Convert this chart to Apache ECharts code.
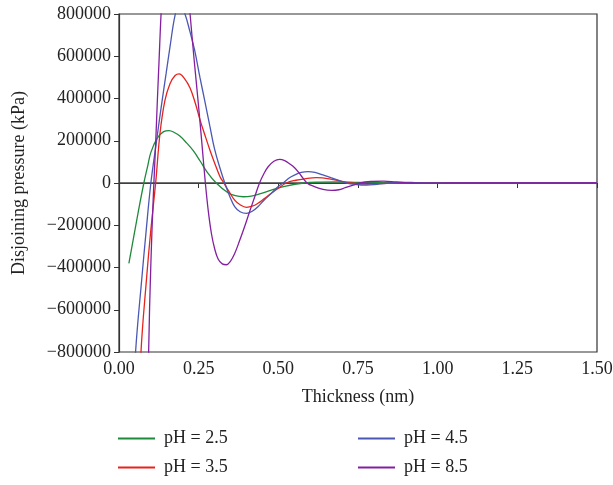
<!DOCTYPE html>
<html>
<head>
<meta charset="utf-8">
<script src="https://cdn.jsdelivr.net/npm/echarts@6/dist/echarts.min.js"></script>
<style>html,body{margin:0;padding:0;background:#fff}#c{width:613px;height:485px}</style>
</head>
<body>
<div id="c"></div>
<script>
var seriesNames = ['pH = 2.5', 'pH = 3.5', 'pH = 4.5', 'pH = 8.5'];
var xTickLabels = ['0.00', '0.25', '0.50', '0.75', '1.00', '1.25', '1.50'];

var ph25 = [[0.031,-381000],[0.045,-265000],[0.06,-140000],[0.078,0],[0.09,80000],[0.10,145000],[0.12,212000],[0.14,243000],[0.157,248000],[0.175,238000],[0.191,222000],[0.212,190000],[0.233,153000],[0.255,103000],[0.275,55000],[0.305,0],[0.342,-46000],[0.365,-60000],[0.39,-65000],[0.415,-62000],[0.447,-49000],[0.48,-33000],[0.52,-16000],[0.58,0],[0.63,4000],[0.69,5000],[0.75,3000],[0.85,1000],[0.95,0],[1.5,0]];
var ph35 = [[0.05,-1500000],[0.069,-800000],[0.086,-460000],[0.10,-220000],[0.115,0],[0.129,240000],[0.144,390000],[0.16,470000],[0.176,509000],[0.189,517000],[0.205,495000],[0.223,450000],[0.24,375000],[0.254,300000],[0.27,225000],[0.286,153000],[0.30,95000],[0.317,30000],[0.329,0],[0.345,-40000],[0.363,-81000],[0.38,-103000],[0.40,-115000],[0.418,-110000],[0.436,-96000],[0.455,-75000],[0.478,-49000],[0.50,-25000],[0.525,0],[0.555,13000],[0.583,20000],[0.62,25000],[0.66,20000],[0.70,8000],[0.725,0],[0.78,-5000],[0.84,-2000],[0.9,1000],[1.0,0],[1.5,0]];
var ph45 = [[0.035,-1300000],[0.052,-800000],[0.072,-445000],[0.085,-230000],[0.10,0],[0.117,190000],[0.134,376000],[0.148,520000],[0.16,644000],[0.176,795000],[0.19,855000],[0.207,800000],[0.222,720000],[0.237,631000],[0.254,500000],[0.269,390000],[0.285,270000],[0.30,160000],[0.317,70000],[0.332,0],[0.348,-65000],[0.363,-112000],[0.38,-136000],[0.40,-144000],[0.418,-134000],[0.436,-112000],[0.455,-82000],[0.478,-49000],[0.497,-20000],[0.515,0],[0.535,25000],[0.551,38000],[0.572,50000],[0.593,54000],[0.615,50000],[0.64,38000],[0.665,25000],[0.687,14000],[0.714,0],[0.745,-7000],[0.777,-9500],[0.81,-6000],[0.85,0],[0.88,3000],[0.93,2000],[1.0,0],[1.5,0]];
var ph85 = [[0.085,-1600000],[0.093,-800000],[0.10,-380000],[0.108,-50000],[0.114,150000],[0.12,376000],[0.126,590000],[0.132,800000],[0.145,1150000],[0.16,1350000],[0.175,1400000],[0.19,1320000],[0.205,1100000],[0.223,800000],[0.236,580000],[0.249,375000],[0.26,190000],[0.271,0],[0.28,-130000],[0.29,-239000],[0.30,-310000],[0.311,-360000],[0.324,-383000],[0.337,-387000],[0.35,-370000],[0.363,-334000],[0.378,-275000],[0.394,-207000],[0.41,-135000],[0.426,-65000],[0.441,0],[0.455,45000],[0.468,77000],[0.486,103000],[0.504,112000],[0.52,106000],[0.536,90000],[0.551,72000],[0.57,38000],[0.59,0],[0.615,-18000],[0.64,-30000],[0.667,-35000],[0.69,-32000],[0.71,-22000],[0.735,-10000],[0.756,0],[0.79,7000],[0.83,9000],[0.87,5000],[0.92,0],[0.97,-1000],[1.05,0],[1.5,0]];
var zeroLine = [[0,0],[1.5,0]];

var colors = ['#1f8a3c', '#e8231c', '#4a58b4', '#8420a0'];
var font = 'Liberation Serif';

var chart = echarts.init(document.getElementById('c'), null, {renderer: 'canvas'});
function mk(name, data, color) {
  return {name: name, type: 'line', data: data, smooth: 0.4, symbol: 'none', showSymbol: false,
    lineStyle: {color: color, width: 1.3}, itemStyle: {color: color}, clip: true, z: 3};
}
var legendText = {fontFamily: font, fontSize: 18, color: '#222', padding: [0, 0, 0, 4], lineHeight: 21};
var option = {
  animation: false,
  backgroundColor: '#fff',
  grid: {left: 119, right: 16, top: 14, bottom: 133, outerBoundsMode: 'none', containLabel: false,
    show: true, borderColor: '#333', borderWidth: 1.2, backgroundColor: 'transparent'},
  xAxis: {type: 'value', min: 0, max: 1.5, interval: 0.25,
    name: 'Thickness (nm)', nameLocation: 'middle', nameGap: 36,
    nameTextStyle: {fontFamily: font, fontSize: 18, color: '#222'},
    axisLine: {lineStyle: {color: '#333', width: 1.2}},
    axisTick: {show: true, inside: false, length: 5, lineStyle: {color: '#333'}},
    axisLabel: {fontFamily: font, fontSize: 18, color: '#222', margin: 8,
      formatter: function (v) { return xTickLabels[Math.round(v / 0.25)]; }},
    splitLine: {show: false}},
  yAxis: {type: 'value', min: -800000, max: 800000, interval: 200000,
    name: 'Disjoining pressure (kPa)', nameLocation: 'middle', nameGap: 91,
    nameTextStyle: {fontFamily: font, fontSize: 18, color: '#222'},
    axisLine: {show: true, lineStyle: {color: '#333', width: 1.2}},
    axisTick: {show: true, inside: false, length: 5, lineStyle: {color: '#333'}},
    axisLabel: {fontFamily: font, fontSize: 18, color: '#222', margin: 8,
      formatter: function (v) { return v < 0 ? '\u2212' + Math.abs(v) : String(v); }},
    splitLine: {show: false}},
  legend: [
    {data: [seriesNames[0], seriesNames[1]], orient: 'vertical', left: 118, top: 428, padding: 0, itemGap: 8,
      icon: 'rect', itemWidth: 37, itemHeight: 2, textStyle: legendText},
    {data: [seriesNames[2], seriesNames[3]], orient: 'vertical', left: 358, top: 428, padding: 0, itemGap: 8,
      icon: 'rect', itemWidth: 37, itemHeight: 2, textStyle: legendText}
  ],
  series: [
    {name: 'zero', type: 'line', data: zeroLine, symbol: 'none', lineStyle: {color: '#444', width: 1.6}, z: 2, silent: true},
    mk(seriesNames[0], ph25, colors[0]),
    mk(seriesNames[1], ph35, colors[1]),
    mk(seriesNames[2], ph45, colors[2]),
    mk(seriesNames[3], ph85, colors[3])
  ]
};
chart.setOption(option);
</script>
</body>
</html>
